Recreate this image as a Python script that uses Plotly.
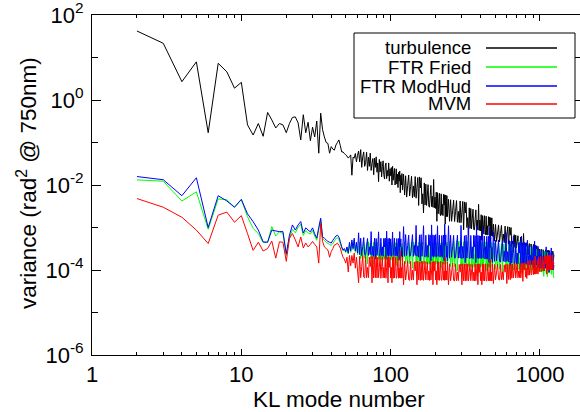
import plotly.graph_objects as go

# KL mode numbers: every mode up to 120, then sampled more sparsely
modes_a = list(range(2, 61))
modes_b = list(range(61, 121))
modes_c = list(range(122, 241, 2))
modes_d = list(range(244, 481, 4))
modes_e = list(range(488, 961, 8))
modes_f = list(range(970, 1241, 10))
modes = modes_a + modes_b + modes_c + modes_d + modes_e + modes_f

# ---------------- turbulence ----------------
turb_a = [42, 21.6, 2.7, 7.9, 0.17, 7.3, 4.6, 1.9, 2.6, 0.26, 0.15, 0.28, 0.14, 0.51, 0.34, 0.22, 0.28, 0.26, 0.17,
          0.28, 0.39, 0.40, 0.29, 0.115, 0.45, 0.17, 0.3, 0.11, 0.23, 0.135, 0.32, 0.056, 0.49, 0.2, 0.135, 0.1, 0.095,
          0.056, 0.08, 0.07, 0.066, 0.087, 0.1, 0.115, 0.085, 0.06, 0.06, 0.055, 0.051, 0.048, 0.043, 0.046, 0.051,
          0.017, 0.045, 0.043, 0.055, 0.035, 0.05]
turb_b = [0.063, 0.035, 0.068, 0.026, 0.046, 0.06, 0.0275, 0.034, 0.059, 0.022, 0.045, 0.0275, 0.056, 0.022, 0.032,
          0.042, 0.0174, 0.043, 0.026, 0.046, 0.02, 0.033, 0.012, 0.04, 0.0204, 0.0355, 0.0155, 0.027, 0.037, 0.0174,
          0.0138, 0.028, 0.033, 0.0141, 0.022, 0.0162, 0.033, 0.0123, 0.024, 0.0166, 0.0257, 0.01, 0.0275, 0.0129,
          0.019, 0.0245, 0.01, 0.0129, 0.024, 0.0105, 0.018, 0.0087, 0.02, 0.0123, 0.0214, 0.0066, 0.017, 0.01,
          0.0186, 0.0076]
turb_c = [0.018, 0.0058, 0.0165, 0.0052, 0.0098, 0.0172, 0.0055, 0.0092, 0.016, 0.005, 0.0095, 0.0053, 0.0158,
          0.0049, 0.0088, 0.015, 0.0033, 0.0155, 0.0085, 0.0148,
          0.0036, 0.0062, 0.0022, 0.0112, 0.0034, 0.0105, 0.0033, 0.0058, 0.0102, 0.0032, 0.003, 0.0056, 0.0098,
          0.0031, 0.0054, 0.003, 0.0135, 0.0029, 0.0052, 0.0028,
          0.0068, 0.0014, 0.0066, 0.0021, 0.0037, 0.0064, 0.0021, 0.0019, 0.0062, 0.002, 0.0035, 0.0019, 0.006,
          0.0034, 0.0059, 0.0012, 0.0058, 0.0018, 0.0056, 0.0018]
turb_d = [0.0046, 0.0014, 0.0045, 0.0014, 0.0025, 0.0044, 0.00138, 0.0024, 0.0043, 0.00133, 0.0024, 0.0013, 0.0042,
          0.0013, 0.0023, 0.0041, 0.00088, 0.004, 0.0022, 0.0039,
          0.001, 0.0017, 0.00066, 0.0029, 0.00095, 0.0028, 0.00093, 0.0016, 0.0027, 0.0009, 0.00088, 0.0016, 0.0026,
          0.00088, 0.0015, 0.00087, 0.0035, 0.00085, 0.0015, 0.00083,
          0.002, 0.0005, 0.0019, 0.0007, 0.00115, 0.0019, 0.00069, 0.00068, 0.00185, 0.00067, 0.0011, 0.00066,
          0.0018, 0.00108, 0.00175, 0.00046, 0.0017, 0.00064, 0.00168, 0.00062]
turb_e = [0.0012, 0.00048, 0.00118, 0.00047, 0.00074, 0.00115, 0.00046, 0.00072, 0.00112, 0.00045, 0.0007, 0.00044,
          0.00108, 0.00043, 0.00068, 0.00105, 0.00031, 0.00102, 0.00066, 0.001,
          0.00035, 0.00048, 0.00026, 0.00068, 0.00034, 0.00066, 0.00033, 0.00046, 0.00064, 0.00032, 0.00031,
          0.00044, 0.0006, 0.0003, 0.00042, 0.0003, 0.00072, 0.00029, 0.0004, 0.00028,
          0.00044, 0.00019, 0.00043, 0.00023, 0.00031, 0.00042, 0.00022, 0.00022, 0.00041, 0.00022, 0.0003,
          0.00021, 0.0004, 0.00029, 0.00039, 0.00017, 0.00038, 0.00021, 0.00037, 0.0002]
turb_f = [3.2e-4, 1.9e-4, 3.1e-4, 1.85e-4, 2.4e-4, 3.1e-4, 1.8e-4, 2.35e-4, 3e-4, 1.8e-4, 2.3e-4, 1.8e-4, 3e-4,
          1.75e-4, 2.3e-4, 2.9e-4, 1.5e-4, 2.9e-4, 2.25e-4, 2.85e-4, 1.75e-4, 2.2e-4, 1.45e-4, 2.8e-4, 1.7e-4,
          2.75e-4, 1.7e-4, 2.3e-4]

# ---------------- FTR Fried ----------------
fried_a = [0.0132, 0.0123, 0.0042, 0.0069, 9.1e-4, 0.0047, 0.0045, 0.003, 0.0045, 0.0018, 9.5e-4, 7.2e-4, 4.4e-4,
           4.5e-4, 1.05e-3, 6.3e-4, 8e-4, 7.2e-4, 2.2e-4, 5.6e-4, 9e-4,
           7.5e-4, 1e-3, 1.2e-3, 6.5e-4, 8.5e-4, 7.5e-4, 7e-4, 8.5e-4, 6.3e-4, 5e-4, 9e-4, 1.5e-3, 5.5e-4, 5e-4,
           4.5e-4, 4.2e-4, 4e-4, 3.8e-4, 4.2e-4, 4.8e-4, 5.5e-4, 5.8e-4, 5.2e-4, 4.2e-4, 3.3e-4, 2.8e-4, 3e-4,
           2.6e-4, 3.2e-4, 2.4e-4, 4e-4, 2.6e-4, 4.5e-4, 3e-4, 5e-4, 2.6e-4, 4e-4, 2.3e-4]
fried_b = [2.9e-4, 4.6e-4, 1.85e-4, 2.8e-4, 1.8e-4, 4.5e-4, 1.9e-4, 2.7e-4, 4.4e-4, 1.4e-4,
           4.6e-4, 2.8e-4, 4.3e-4, 1.8e-4, 2.7e-4, 1.35e-4, 4.5e-4, 1.75e-4, 4.4e-4, 1.8e-4,
           2.8e-4, 4.5e-4, 1.75e-4, 1.8e-4, 2.7e-4, 4.3e-4, 1.7e-4, 2.8e-4, 1.75e-4, 5.6e-4,
           1.8e-4, 2.7e-4, 1.7e-4, 4.4e-4, 1.35e-4, 4.5e-4, 1.75e-4, 2.7e-4, 4.3e-4, 1.7e-4,
           1.75e-4, 4.4e-4, 1.7e-4, 2.7e-4, 1.7e-4, 4.2e-4, 2.6e-4, 4.4e-4, 1.3e-4, 4.3e-4,
           1.7e-4, 4.2e-4, 1.65e-4, 4.3e-4, 1.7e-4, 4.1e-4, 1.65e-4, 2.6e-4, 4.2e-4, 1.6e-4]
fried_c = [2.5e-4, 4.6e-4, 1.4e-4, 2.6e-4, 1.45e-4, 4.4e-4, 1.4e-4, 2.5e-4, 4.5e-4, 1.1e-4,
           4.6e-4, 2.5e-4, 4.4e-4, 1.4e-4, 2.4e-4, 1.1e-4, 4.5e-4, 1.35e-4, 4.3e-4, 1.4e-4,
           2.5e-4, 4.5e-4, 1.4e-4, 1.35e-4, 2.5e-4, 4.4e-4, 1.4e-4, 2.4e-4, 1.35e-4, 6.3e-4,
           1.4e-4, 2.5e-4, 1.35e-4, 4.5e-4, 1.1e-4, 4.4e-4, 1.4e-4, 2.5e-4, 4.6e-4, 1.35e-4,
           1.4e-4, 4.4e-4, 1.35e-4, 2.4e-4, 1.4e-4, 4.5e-4, 2.5e-4, 4.3e-4, 1.1e-4, 4.4e-4,
           1.35e-4, 4.5e-4, 1.4e-4, 4.3e-4, 1.35e-4, 4.4e-4, 1.4e-4, 2.4e-4, 4.5e-4, 1.35e-4]
fried_d = [2.4e-4, 4.8e-4, 1.2e-4, 2.5e-4, 1.25e-4, 4.7e-4, 1.2e-4, 2.4e-4, 4.9e-4, 9.5e-5,
           4.7e-4, 2.4e-4, 4.8e-4, 1.2e-4, 2.3e-4, 9.5e-5, 4.6e-4, 1.15e-4, 4.8e-4, 1.2e-4,
           2.4e-4, 4.7e-4, 1.2e-4, 1.15e-4, 2.4e-4, 4.8e-4, 1.2e-4, 2.3e-4, 1.15e-4, 6.3e-4,
           1.2e-4, 2.4e-4, 1.15e-4, 4.7e-4, 9.5e-5, 4.6e-4, 1.2e-4, 2.3e-4, 4.7e-4, 1.15e-4,
           1.2e-4, 4.6e-4, 1.15e-4, 2.3e-4, 1.2e-4, 4.5e-4, 2.4e-4, 4.6e-4, 9.5e-5, 4.5e-4,
           1.15e-4, 4.5e-4, 1.2e-4, 4.4e-4, 1.15e-4, 4.5e-4, 1.15e-4, 2.3e-4, 4.4e-4, 1.15e-4]
fried_e = [2.2e-4, 4.3e-4, 1.05e-4, 2.2e-4, 1.1e-4, 4.2e-4, 1.05e-4, 2.1e-4, 4.2e-4, 8.9e-5,
           4.1e-4, 2.1e-4, 4.2e-4, 1.05e-4, 2.1e-4, 8.9e-5, 4e-4, 1.05e-4, 4.1e-4, 1.05e-4,
           2.1e-4, 4e-4, 1e-4, 1.05e-4, 2e-4, 3.9e-4, 1.05e-4, 2e-4, 1e-4, 4.8e-4,
           1.05e-4, 2e-4, 1e-4, 3.8e-4, 8.9e-5, 3.8e-4, 1.05e-4, 2e-4, 3.7e-4, 1e-4,
           1.05e-4, 3.6e-4, 1e-4, 2e-4, 1.05e-4, 3.5e-4, 1.9e-4, 3.5e-4, 8.7e-5, 3.4e-4,
           1e-4, 3.3e-4, 1.05e-4, 3.3e-4, 1e-4, 3.2e-4, 1e-4, 1.9e-4, 3.1e-4, 9.5e-5]
fried_f = [1.7e-4, 2.9e-4, 9e-5, 1.65e-4, 9e-5, 2.8e-4, 8.9e-5, 1.6e-4, 2.8e-4, 7.1e-5, 2.7e-4, 1.6e-4, 2.7e-4,
           8.7e-5, 1.55e-4, 7e-5, 2.6e-4, 8.5e-5, 2.6e-4, 8.5e-5, 1.5e-4, 2.5e-4, 8e-5, 8e-5, 1.5e-4, 2.4e-4,
           7.5e-5, 6.5e-5]

# ---------------- FTR ModHud ----------------
modhud_a = [0.0158, 0.0133, 0.0056, 0.0148, 0.001, 0.0056, 0.0042, 0.003, 0.0046, 0.0021, 0.00137, 8.7e-4, 4.6e-4,
            4.5e-4, 8.7e-4, 8.3e-4, 8e-4, 8e-4, 2.4e-4, 6.6e-4, 1.15e-3,
            8.7e-4, 1.15e-3, 1.38e-3, 7.4e-4, 9.8e-4, 8.7e-4, 7.9e-4, 9.8e-4, 7.1e-4, 5.6e-4, 1e-3, 1.66e-3, 6e-4,
            5.6e-4, 5.1e-4, 4.7e-4, 4.5e-4, 4.3e-4, 5e-4, 5.6e-4, 6.3e-4, 6.6e-4, 6e-4, 4.7e-4, 3.5e-4, 2.95e-4,
            3.2e-4, 2.7e-4, 3.5e-4, 2.5e-4, 4.5e-4, 2.8e-4, 5.1e-4, 3.2e-4, 5.6e-4, 2.8e-4, 4.5e-4, 2.5e-4]
modhud_b = [7.5e-4, 2.3e-4, 5.6e-4, 2.2e-4, 3.6e-4, 5.8e-4, 2.3e-4, 2.2e-4, 3.5e-4, 5.5e-4,
            2.2e-4, 3.5e-4, 2.3e-4, 8e-4, 2.2e-4, 3.6e-4, 2.1e-4, 5.6e-4, 1.8e-4, 5.5e-4,
            2.2e-4, 3.5e-4, 7.9e-4, 2.2e-4, 2.1e-4, 5.6e-4, 2.2e-4, 3.5e-4, 2.1e-4, 5.5e-4,
            3.5e-4, 5.6e-4, 1.8e-4, 8.2e-4, 2.2e-4, 5.5e-4, 2.1e-4, 5.6e-4, 2.2e-4, 5.4e-4,
            2.1e-4, 3.5e-4, 7.8e-4, 2.2e-4, 3.4e-4, 5.6e-4, 2.1e-4, 3.5e-4, 2.2e-4, 5.5e-4,
            2.1e-4, 3.4e-4, 5.5e-4, 1.75e-4, 8e-4, 3.5e-4, 5.4e-4, 2.1e-4, 3.4e-4, 1.8e-4]
modhud_c = [1.05e-3, 2.1e-4, 6.8e-4, 2.2e-4, 3.8e-4, 6.6e-4, 2.1e-4, 2.2e-4, 3.9e-4, 6.8e-4,
            2.1e-4, 3.8e-4, 2.2e-4, 1.12e-3, 2.1e-4, 3.7e-4, 2e-4, 6.7e-4, 1.65e-4, 6.8e-4,
            2.1e-4, 3.8e-4, 1.1e-3, 2.1e-4, 2e-4, 6.6e-4, 2.1e-4, 3.8e-4, 2e-4, 6.8e-4,
            3.8e-4, 6.6e-4, 1.65e-4, 1.15e-3, 2.1e-4, 6.7e-4, 2e-4, 6.5e-4, 2.1e-4, 6.8e-4,
            2e-4, 3.7e-4, 1.1e-3, 2.1e-4, 3.8e-4, 6.6e-4, 2e-4, 3.8e-4, 2.1e-4, 6.5e-4,
            2e-4, 3.7e-4, 6.6e-4, 1.65e-4, 1.2e-3, 3.8e-4, 6.7e-4, 2e-4, 3.7e-4, 1.65e-4]
modhud_d = [1.1e-3, 1.9e-4, 6.6e-4, 2e-4, 3.6e-4, 6.5e-4, 1.9e-4, 1.95e-4, 3.5e-4, 6.6e-4,
            1.9e-4, 3.5e-4, 1.9e-4, 1.12e-3, 1.85e-4, 3.6e-4, 1.9e-4, 6.4e-4, 1.5e-4, 6.6e-4,
            1.9e-4, 3.5e-4, 1.05e-3, 1.9e-4, 1.85e-4, 6.5e-4, 1.9e-4, 3.5e-4, 1.85e-4, 6.6e-4,
            3.5e-4, 6.4e-4, 1.5e-4, 1.1e-3, 1.9e-4, 6.5e-4, 1.85e-4, 6.4e-4, 1.9e-4, 6.3e-4,
            1.85e-4, 3.5e-4, 1e-3, 1.9e-4, 3.4e-4, 6.3e-4, 1.8e-4, 3.5e-4, 1.85e-4, 6.2e-4,
            1.8e-4, 3.4e-4, 6.2e-4, 1.5e-4, 1e-3, 3.4e-4, 6.1e-4, 1.8e-4, 3.4e-4, 1.5e-4]
modhud_e = [7.9e-4, 1.6e-4, 5e-4, 1.65e-4, 2.8e-4, 5.1e-4, 1.6e-4, 1.55e-4, 2.9e-4, 4.9e-4,
            1.6e-4, 2.8e-4, 1.55e-4, 7.5e-4, 1.6e-4, 2.7e-4, 1.55e-4, 4.9e-4, 1.26e-4, 4.8e-4,
            1.45e-4, 2.6e-4, 6.3e-4, 1.4e-4, 1.45e-4, 4.5e-4, 1.4e-4, 2.5e-4, 1.4e-4, 4.4e-4,
            2.5e-4, 4.5e-4, 1.2e-4, 6.2e-4, 1.4e-4, 4.4e-4, 1.35e-4, 4.5e-4, 1.4e-4, 4.3e-4,
            1.35e-4, 2.2e-4, 5e-4, 1.35e-4, 2.2e-4, 3.8e-4, 1.3e-4, 2.2e-4, 1.35e-4, 3.7e-4,
            1.3e-4, 2.2e-4, 3.6e-4, 1.12e-4, 4.8e-4, 2.1e-4, 3.6e-4, 1.3e-4, 2.1e-4, 1.1e-4]
modhud_f = [3.6e-4, 1.15e-4, 2.8e-4, 1.1e-4, 1.85e-4, 2.9e-4, 1.1e-4, 1.15e-4, 1.8e-4, 2.8e-4, 1.1e-4, 1.8e-4,
            1.1e-4, 3.5e-4, 1.1e-4, 1.75e-4, 1.05e-4, 2.7e-4, 8.9e-5, 2.6e-4, 1.05e-4, 1.7e-4, 3.3e-4, 1.05e-4,
            1e-4, 2.5e-4, 1e-4, 1.3e-4]

# ---------------- MVM ----------------
mvm_a = [0.0048, 0.003, 0.00174, 8.7e-4, 4.2e-4, 0.00196, 0.0023, 0.00133, 0.0019, 7.2e-4, 2.9e-4, 4.5e-4, 2.8e-4,
         3.2e-4, 4.8e-4, 1.9e-4, 4.6e-4, 4.5e-4, 1.6e-4, 5.6e-4, 7.2e-4,
         5.1e-4, 3.5e-4, 6e-4, 3.3e-4, 4.3e-4, 3.5e-4, 4e-4, 4.7e-4, 4e-4, 3.5e-4, 1.45e-4, 1.26e-3, 4.7e-4,
         3.5e-4, 3.2e-4, 2.95e-4, 2e-4, 2.7e-4, 3.2e-4, 3.9e-4, 4e-4, 4.3e-4, 3.8e-4, 3.3e-4, 2.5e-4, 2e-4,
         1.8e-4, 1.45e-4, 2e-4, 9e-5, 2.2e-4, 1.26e-4, 2.2e-4, 1.45e-4, 2.5e-4, 1.1e-4, 2e-4, 1e-4]
mvm_b = [5e-5, 2.1e-4, 6.6e-5, 1.2e-4, 2.2e-4, 6.8e-5, 6.5e-5, 2.1e-4, 6.6e-5, 1.15e-4,
         6.6e-5, 2e-4, 1.2e-4, 2.1e-4, 5e-5, 2.1e-4, 6.5e-5, 2e-4, 6.6e-5, 2.1e-4,
         6.5e-5, 2e-4, 6.6e-5, 1.15e-4, 2.1e-4, 6.4e-5, 1.2e-4, 2e-4, 6.5e-5, 1.15e-4,
         6.6e-5, 2.1e-4, 6.4e-5, 1.15e-4, 2e-4, 5e-5, 2.1e-4, 1.15e-4, 2e-4, 6.5e-5,
         1.15e-4, 5e-5, 2e-4, 6.4e-5, 2.1e-4, 6.5e-5, 1.15e-4, 2e-4, 6.4e-5, 6.6e-5,
         1.15e-4, 2e-4, 6.4e-5, 1.1e-4, 6.5e-5, 2.8e-4, 6.4e-5, 1.15e-4, 6.5e-5, 2e-4]
mvm_c = [4.5e-5, 1.6e-4, 5.8e-5, 9.5e-5, 1.65e-4, 5.9e-5, 5.7e-5, 1.6e-4, 5.8e-5, 9.8e-5,
         5.8e-5, 1.55e-4, 9.5e-5, 1.6e-4, 4.5e-5, 1.6e-4, 5.8e-5, 1.55e-4, 5.7e-5, 1.6e-4,
         5.8e-5, 1.6e-4, 5.7e-5, 9.5e-5, 1.6e-4, 5.8e-5, 9.3e-5, 1.55e-4, 5.8e-5, 9.5e-5,
         5.7e-5, 1.6e-4, 5.8e-5, 9.5e-5, 1.55e-4, 4.5e-5, 1.6e-4, 9.4e-5, 1.6e-4, 5.8e-5,
         9.5e-5, 4.5e-5, 1.6e-4, 5.8e-5, 1.55e-4, 5.7e-5, 9.5e-5, 1.6e-4, 5.8e-5, 5.7e-5,
         9.4e-5, 1.55e-4, 5.8e-5, 9.5e-5, 5.7e-5, 2e-4, 5.8e-5, 9.5e-5, 5.8e-5, 1.55e-4]
mvm_d = [4.5e-5, 1.4e-4, 5.6e-5, 8.9e-5, 1.45e-4, 5.7e-5, 5.5e-5, 1.4e-4, 5.6e-5, 9e-5,
         5.6e-5, 1.35e-4, 8.9e-5, 1.4e-4, 4.5e-5, 1.4e-4, 5.6e-5, 1.38e-4, 5.5e-5, 1.4e-4,
         5.6e-5, 1.4e-4, 5.5e-5, 8.8e-5, 1.4e-4, 5.6e-5, 8.9e-5, 1.35e-4, 5.6e-5, 8.9e-5,
         5.5e-5, 1.4e-4, 5.6e-5, 8.9e-5, 1.38e-4, 4.5e-5, 1.4e-4, 8.8e-5, 1.4e-4, 5.6e-5,
         8.9e-5, 4.5e-5, 1.4e-4, 5.6e-5, 1.38e-4, 5.5e-5, 8.9e-5, 1.4e-4, 5.6e-5, 5.5e-5,
         8.9e-5, 1.4e-4, 5.6e-5, 8.8e-5, 5.6e-5, 1.8e-4, 5.6e-5, 8.9e-5, 5.5e-5, 1.4e-4]
mvm_e = [4.8e-5, 1.35e-4, 5.9e-5, 8.9e-5, 1.38e-4, 6e-5, 5.8e-5, 1.35e-4, 5.9e-5, 9e-5,
         5.9e-5, 1.33e-4, 8.9e-5, 1.36e-4, 4.8e-5, 1.35e-4, 6e-5, 1.38e-4, 5.9e-5, 1.37e-4,
         6.4e-5, 1.4e-4, 6.5e-5, 9.5e-5, 1.42e-4, 6.5e-5, 9.6e-5, 1.4e-4, 6.6e-5, 9.5e-5,
         6.6e-5, 1.43e-4, 6.5e-5, 9.8e-5, 1.45e-4, 5.4e-5, 1.45e-4, 1e-4, 1.48e-4, 6.8e-5,
         1.1e-4, 6.3e-5, 1.6e-4, 7.5e-5, 1.65e-4, 7.6e-5, 1.12e-4, 1.66e-4, 7.7e-5, 7.8e-5,
         1.15e-4, 1.7e-4, 7.8e-5, 1.15e-4, 8e-5, 2.1e-4, 8e-5, 1.18e-4, 8.2e-5, 1.75e-4]
mvm_f = [8e-5, 2.05e-4, 9.2e-5, 1.35e-4, 2.1e-4, 9.3e-5, 9.5e-5, 2.1e-4, 9.5e-5, 1.4e-4, 9.5e-5, 2.15e-4, 1.4e-4,
         2.2e-4, 8e-5, 2.2e-4, 9.8e-5, 2.2e-4, 1e-4, 2.25e-4, 1e-4, 2.2e-4, 1e-4, 1.45e-4, 2.25e-4, 1.02e-4,
         1.5e-4, 1.4e-4]

turbulence = turb_a + turb_b + turb_c + turb_d + turb_e + turb_f
ftr_fried = fried_a + fried_b + fried_c + fried_d + fried_e + fried_f
ftr_modhud = modhud_a + modhud_b + modhud_c + modhud_d + modhud_e + modhud_f
mvm = mvm_a + mvm_b + mvm_c + mvm_d + mvm_e + mvm_f

series_names = ["turbulence", "FTR Fried", "FTR ModHud", "MVM"]
series_values = [turbulence, ftr_fried, ftr_modhud, mvm]
series_colors = ["#000000", "#00ff00", "#0000ff", "#ff0000"]

for nm, v in zip(series_names, series_values):
    assert len(v) == len(modes), (nm, len(v), len(modes))

y_tickvals = [1e-6, 1e-4, 1e-2, 1, 100]
y_ticktext = ["10<sup>-6</sup>", "10<sup>-4</sup>", "10<sup>-2</sup>", "10<sup>0</sup>", "10<sup>2</sup>"]
x_tickvals = [1, 10, 100, 1000]
x_ticktext = ["1", "10", "100", "1000"]

FONT = "Liberation Sans, Arial, Helvetica, sans-serif"

fig = go.Figure()
for name, vals, col in zip(series_names, series_values, series_colors):
    fig.add_trace(go.Scatter(x=modes, y=vals, mode="lines", name=name,
                             line=dict(color=col, width=1, simplify=False),
                             showlegend=False))

W, H = 580, 412
L, R, T, B = 92, 0, 15, 57
pw, ph = W - L - R, H - T - B

def px(xp):
    return (xp - L) / pw

def py(yp):
    return (H - B - yp) / ph

fig.update_layout(
    width=W, height=H,
    margin=dict(l=L, r=R, t=T, b=B),
    paper_bgcolor="white", plot_bgcolor="white",
    font=dict(family=FONT, size=22, color="black"),
)

x_minor = [m * d for d in (1, 10, 100, 1000) for m in range(2, 10)]
fig.update_xaxes(
    type="log", range=[0, 3.268], showgrid=False, zeroline=False,
    showline=True, linecolor="black", linewidth=1, mirror="ticks",
    ticks="inside", ticklen=6, tickcolor="black", tickwidth=1,
    tickvals=x_tickvals, ticktext=x_ticktext, ticklabelstandoff=0,
    ticklabeloverflow="allow", tickfont=dict(size=22),
    minor=dict(tickvals=x_minor, ticks="inside", ticklen=3, tickcolor="black", showgrid=False),
)
fig.update_yaxes(
    type="log", range=[-6, 2], showgrid=False, zeroline=False,
    showline=True, linecolor="black", linewidth=1, mirror="ticks",
    ticks="inside", ticklen=9, tickcolor="black", tickwidth=1,
    tickvals=y_tickvals, ticktext=y_ticktext, ticklabelstandoff=3,
    ticklabeloverflow="allow", tickfont=dict(size=22),
    minor=dict(tickvals=[1e-5, 1e-3, 1e-1, 10], ticks="inside", ticklen=6, tickcolor="black", showgrid=False),
)

# axis titles
fig.add_annotation(text="KL mode number", xref="paper", yref="paper",
                   x=px(339), y=py(399), xanchor="center", yanchor="middle",
                   showarrow=False, font=dict(size=22.5))
fig.add_annotation(text="variance (rad<sup>2</sup> @ 750nm)", xref="paper", yref="paper",
                   x=px(27), y=py(183), xanchor="center", yanchor="middle", textangle=-90,
                   showarrow=False, font=dict(size=22.5))

# legend box (text to the left of the line sample)
fig.add_shape(type="rect", xref="paper", yref="paper",
              x0=px(354), x1=px(575), y0=py(118), y1=py(33),
              line=dict(color="black", width=1), fillcolor="white", layer="above")
row_y = [48, 67, 86, 104]
for name, col, ry in zip(series_names, series_colors, row_y):
    fig.add_shape(type="line", xref="paper", yref="paper",
                  x0=px(486), x1=px(557), y0=py(ry), y1=py(ry),
                  line=dict(color=col, width=1.5), layer="above")
    fig.add_annotation(text=name, xref="paper", yref="paper",
                       x=px(473), y=py(ry), xanchor="right", yanchor="middle",
                       showarrow=False, font=dict(size=18.5))

fig.write_html("out.html")
